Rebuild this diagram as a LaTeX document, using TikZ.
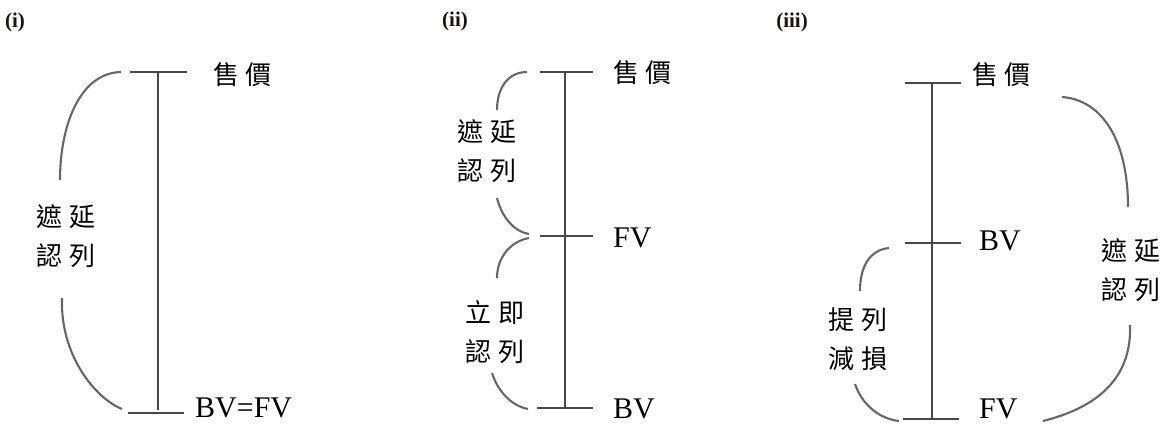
\documentclass[tikz,border=0pt]{standalone}
\usepackage{fontspec}
\setmainfont{Liberation Serif}
\newfontfamily\cjk{Noto Sans CJK TC}
\newcommand{\cjkgap}{\hspace{0.25em}}
\begin{document}
\begin{tikzpicture}[x=1pt,y=-1pt,
  axis/.style={draw=black!72,line width=2.1pt},
  brace/.style={draw=black!60,line width=2.1pt},
  cjklab/.style={inner sep=0pt,font=\cjk\fontsize{26}{39}\selectfont,align=left},
  latlab/.style={inner sep=0pt,anchor=base west,font=\fontsize{30}{36}\selectfont},
  panlab/.style={inner sep=0pt,font=\bfseries\fontsize{21}{24}\selectfont,text=black!85!brown}]
\useasboundingbox (0,0) rectangle (1171,428);
% ---------- panel (i)
\node[panlab] (la) at (15,22) {(i)};
\coordinate (a1l) at (130,72); \coordinate (a1r) at (187,72);
\coordinate (a1t) at (158,72); \coordinate (a1b) at (158,410);
\coordinate (a2l) at (128,413); \coordinate (a2r) at (184,413);
\draw[axis] (a1l) -- (a1r);
\draw[axis] (a2l) -- (a2r);
\draw[axis] (a1t) -- (a1b);
\node[cjklab,anchor=west] (asale) at (213,75) {售\cjkgap 價};
\node[latlab] (abv) at (195,417) {BV=FV};
\coordinate (ab1) at (121,72); \coordinate (ab2) at (60,180);
\coordinate (ab3) at (62,298); \coordinate (ab4) at (122,409);
\draw[brace] (ab1) .. controls (80,73) and (60,125) .. (ab2);
\draw[brace] (ab3) .. controls (60,355) and (95,398) .. (ab4);
\node[cjklab] (adef) at (66,236) {遮\cjkgap 延\\認\cjkgap 列};
% ---------- panel (ii)
\node[panlab] (lb) at (455,21) {(ii)};
\coordinate (b1l) at (540,72); \coordinate (b1r) at (593,72);
\coordinate (b2l) at (540,236); \coordinate (b2r) at (593,236);
\coordinate (b3l) at (537,408); \coordinate (b3r) at (593,408);
\coordinate (bt) at (565,72); \coordinate (bb) at (565,408);
\draw[axis] (b1l) -- (b1r);
\draw[axis] (b2l) -- (b2r);
\draw[axis] (b3l) -- (b3r);
\draw[axis] (bt) -- (bb);
\node[cjklab,anchor=west] (bsale) at (613,73) {售\cjkgap 價};
\node[latlab] (bfv) at (613,247) {FV};
\node[latlab] (bbv) at (613,418) {BV};
\coordinate (bb1) at (527,72); \coordinate (bb2) at (497,110);
\coordinate (bb3) at (497,198); \coordinate (bb4) at (529,234);
\coordinate (bb5) at (529,238); \coordinate (bb6) at (497,278);
\coordinate (bb7) at (492,373); \coordinate (bb8) at (528,409);
\draw[brace] (bb1) .. controls (508,72) and (497,88) .. (bb2);
\draw[brace] (bb3) .. controls (502,218) and (515,232) .. (bb4);
\draw[brace] (bb5) .. controls (512,241) and (497,256) .. (bb6);
\draw[brace] (bb7) .. controls (498,392) and (512,406) .. (bb8);
\node[cjklab] (bdef) at (487,151) {遮\cjkgap 延\\認\cjkgap 列};
\node[cjklab] (bimm) at (495,332) {立\cjkgap 即\\認\cjkgap 列};
% ---------- panel (iii)
\node[panlab] (lc) at (792,22) {(iii)};
\coordinate (c1l) at (905,83); \coordinate (c1r) at (961,83);
\coordinate (c2l) at (905,243); \coordinate (c2r) at (961,243);
\coordinate (c3l) at (903,419); \coordinate (c3r) at (959,419);
\coordinate (ct) at (932,83); \coordinate (cb) at (932,419);
\draw[axis] (c1l) -- (c1r);
\draw[axis] (c2l) -- (c2r);
\draw[axis] (c3l) -- (c3r);
\draw[axis] (ct) -- (cb);
\node[cjklab,anchor=west] (csale) at (972,75) {售\cjkgap 價};
\node[latlab] (cbv) at (979,250) {BV};
\node[latlab] (cfv) at (979,418) {FV};
\coordinate (cr1) at (1062,97); \coordinate (cr2) at (1128,207);
\coordinate (cr3) at (1130,325); \coordinate (cr4) at (1043,421);
\draw[brace] (cr1) .. controls (1102,100) and (1128,140) .. (cr2);
\draw[brace] (cr3) .. controls (1132,380) and (1095,408) .. (cr4);
\node[cjklab] (cdef) at (1131,270) {遮\cjkgap 延\\認\cjkgap 列};
\coordinate (cl1) at (889,248); \coordinate (cl2) at (860,291);
\coordinate (cl3) at (855,384); \coordinate (cl4) at (899,421);
\draw[brace] (cl1) .. controls (870,250) and (860,266) .. (cl2);
\draw[brace] (cl3) .. controls (862,405) and (880,419) .. (cl4);
\node[cjklab] (cimp) at (858,339) {提\cjkgap 列\\減\cjkgap 損};
\end{tikzpicture}
\end{document}
